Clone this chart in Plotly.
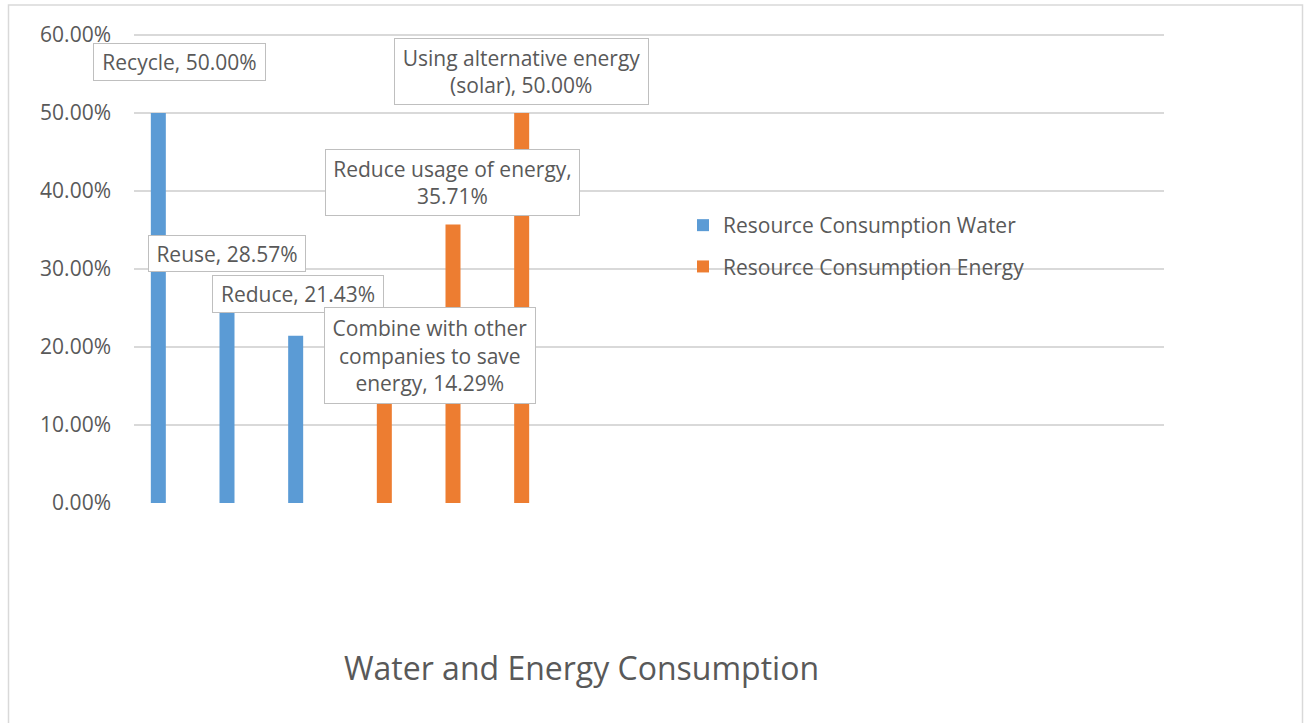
import textwrap
import plotly.graph_objects as go

# ---------------- data ----------------
water_categories = ["Recycle", "Reuse", "Reduce"]
water_values = [0.50, 0.2857, 0.2143]
energy_categories = [
    "Using alternative energy (solar)",
    "Reduce usage of energy",
    "Combine with other companies to save energy",
]
energy_values = [0.50, 0.3571, 0.1429]
# x-axis order of the categories (Excel order)
category_order = ["Recycle", "Reuse", "Reduce",
                  "Combine with other companies to save energy",
                  "Reduce usage of energy",
                  "Using alternative energy (solar)"]
energy_order_values = {c: v for c, v in zip(energy_categories, energy_values)}
series_names = ["Resource Consumption Water", "Resource Consumption Energy"]
chart_title = "Water and Energy Consumption"
y_ticks = [0, 0.1, 0.2, 0.3, 0.4, 0.5, 0.6]

# ---------------- layout helpers ----------------
W, H = 1304, 723
L, R, T, B = 134, 140, 33, 220
PW, PH = W - L - R, H - T - B
Y_TOP = 0.6 * PH / (PH - 2)   # leave 2px headroom so the 60% gridline is not clipped


def px_x(px):
    return (px - L) / PW


def px_y(py):
    return (H - B - py) / PH


FONT = "Open Sans"
GREY = "#595959"
BLUE = "#5B9BD5"
ORANGE = "#ED7D31"
GRID = "#D9D9D9"

energy_x = category_order[3:]
energy_y = [energy_order_values[c] for c in energy_x]

fig = go.Figure()
fig.add_trace(go.Bar(x=water_categories, y=water_values, name=series_names[0],
                     marker=dict(color=BLUE, line=dict(width=0)), offsetgroup="w",
                     legendgroup="w", hoverinfo="skip"))
fig.add_trace(go.Bar(x=energy_x, y=energy_y, name=series_names[1],
                     marker=dict(color=ORANGE, line=dict(width=0)), offsetgroup="e",
                     legendgroup="e", hoverinfo="skip"))

# ---------------- data labels (callout boxes) ----------------
label_cats = water_categories + energy_x
label_vals = water_values + energy_y
# styling per label: wrap width (chars), box size (px), offsets (px)
wrap_w = [40, 40, 40, 18, 23, 24]
box_w = [173, 158, 172, 212, 255, 255]
box_h = [38, 37, 38, 97, 67, 67]
dx = [11.2, -10.1, -7.5, 55.6, 9.8, 9.7]
dy = [50.7, 26.5, 41.7, 36.4, 41.5, 41.2]

for i, (c, v) in enumerate(zip(label_cats, label_vals)):
    txt = f"{c}, {v:.2%}"
    txt = "<br>".join(textwrap.wrap(txt, wrap_w[i]))
    fig.add_annotation(x=c, y=v, xref="x", yref="y", text=txt, showarrow=False,
                       xanchor="center", yanchor="middle", xshift=dx[i], yshift=dy[i],
                       width=box_w[i] - 2, height=box_h[i] - 2, align="center",
                       valign="middle", bgcolor="white", bordercolor="#BFBFBF",
                       borderwidth=1, borderpad=0,
                       font=dict(family=FONT, size=21, color=GREY))

# title
fig.add_annotation(x=px_x(581.5), y=px_y(667), xref="paper", yref="paper",
                   text=chart_title, showarrow=False, xanchor="center", yanchor="middle",
                   font=dict(family=FONT, size=32, color=GREY))

# outer chart border
fig.add_shape(type="rect", xref="paper", yref="paper",
              x0=px_x(8.5), x1=px_x(1302.5), y0=px_y(740), y1=px_y(5),
              line=dict(color=GRID, width=1.5), fillcolor="rgba(0,0,0,0)", layer="below")

fig.update_layout(
    width=W, height=H,
    margin=dict(l=L, r=R, t=T, b=B, pad=0),
    paper_bgcolor="white", plot_bgcolor="white",
    barmode="group", bargap=0.4175, bargroupgap=0.25,
    font=dict(family=FONT, size=21, color=GREY),
    showlegend=True,
    legend=dict(x=px_x(683), y=px_y(205), xanchor="left", yanchor="top",
                bgcolor="rgba(0,0,0,0)", borderwidth=0, tracegroupgap=11,
                font=dict(family=FONT, size=21, color=GREY), itemclick=False),
    xaxis=dict(type="category", categoryorder="array", categoryarray=category_order,
               range=[-0.5, 14.5], showticklabels=False, showgrid=False,
               zeroline=False, showline=False, ticks="", fixedrange=True),
    yaxis=dict(range=[0, Y_TOP], tickvals=y_ticks, tickformat=".2%",
               showgrid=True, gridcolor=GRID, gridwidth=1.5, zeroline=False,
               showline=False, ticks="", ticklabelstandoff=22,
               tickfont=dict(family=FONT, size=21, color=GREY), fixedrange=True),
)

fig.write_html("out.html", config={"displayModeBar": False},
               post_script="document.body.style.margin='0';document.body.style.overflow='hidden';")
